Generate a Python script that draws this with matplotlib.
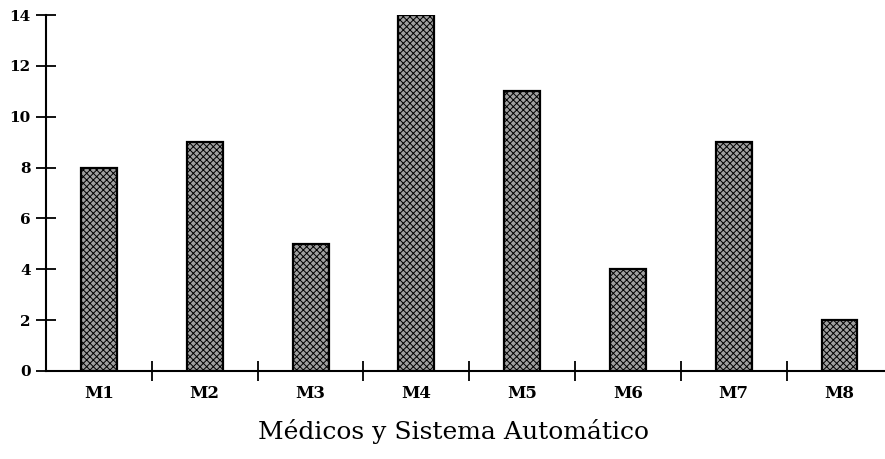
import numpy as np
import matplotlib
matplotlib.use("Agg")
from matplotlib import pyplot as plt

categories = ['M1', 'M2', 'M3', 'M4', 'M5', 'M6', 'M7', 'M8']
values = [8, 9, 5, 14, 11, 4, 9, 2]
y_ticks = [0, 2, 4, 6, 8, 10, 12, 14]
xlabel = 'Médicos y Sistema Automático'

plt.rcParams['font.family'] = ['DejaVu Serif']
plt.rcParams['hatch.color'] = '#505050'
plt.rcParams['hatch.linewidth'] = 0.7

fig = plt.figure(figsize=(8.85, 4.59), dpi=100)
ax = fig.add_axes([0.052, 0.192, 0.948, 0.775])

x = np.arange(len(categories))
ax.bar(x, values, width=0.34, color='#a0a0a0', edgecolor='black',
       linewidth=1.6, hatch='xxxxx')

ax.set_xlim(-0.5, 7.43)
ax.set_ylim(0, 14)

for s in ['top', 'right']:
    ax.spines[s].set_visible(False)
ax.spines['left'].set_linewidth(1.5)
ax.spines['bottom'].set_linewidth(1.5)

ax.set_yticks(y_ticks)
ax.set_yticklabels([str(v) for v in y_ticks], fontsize=11, fontweight='bold')
ax.tick_params(axis='y', direction='inout', length=14, width=1.3, pad=4)

# category boundaries as ticks, names in between
ax.set_xticks(x[:-1] + 0.5)
ax.set_xticklabels([])
ax.set_xticks(x, minor=True)
ax.set_xticklabels(categories, minor=True, fontsize=12, fontweight='bold')
ax.tick_params(axis='x', which='major', direction='inout', length=14, width=1.3)
ax.tick_params(axis='x', which='minor', length=0, pad=10)

fig.text(0.512, 0.06, xlabel, fontsize=18, ha='center', va='center')

fig.savefig('out.png', dpi=100)
